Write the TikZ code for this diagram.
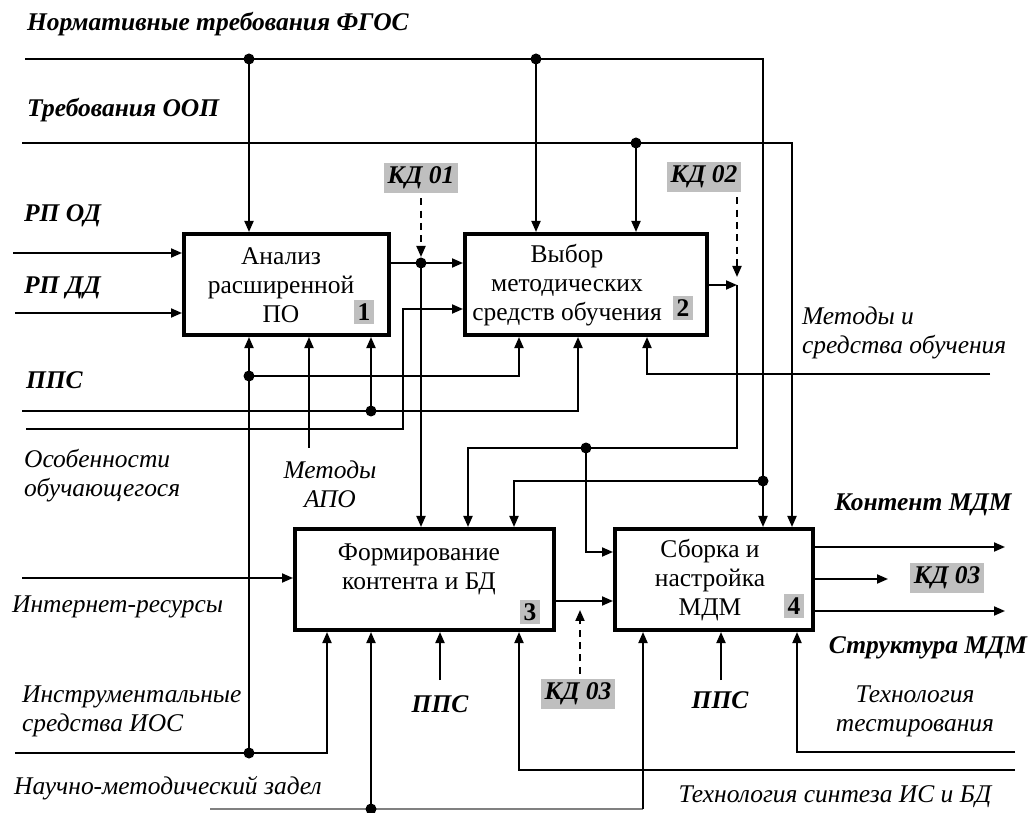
\documentclass[tikz,border=0pt]{standalone}
\usepackage{fontspec}
\setmainfont{Liberation Serif}
\usetikzlibrary{arrows.meta,positioning,calc}
\newcommand{\razm}{\fontsize{14.5}{16.5}\selectfont}

\begin{document}
\begin{tikzpicture}[
  x=0.02cm, y=-0.02cm,
  every node/.style={font=\razm, inner sep=1pt},
  blok/.style={draw, line width=2.3pt, minimum height=2.02cm},
  num/.style={fill=black!25, font=\razm\bfseries, inner sep=2pt},
  kd/.style={fill=black!25, font=\razm\bfseries\itshape, inner sep=2pt},
  vx/.style={font=\razm\bfseries\itshape, anchor=west},
  mex/.style={font=\razm\itshape, align=left},
  arr/.style={line width=1.1pt, -{Triangle[length=0.22cm,width=0.18cm]}},
  dasharr/.style={arr, dash pattern=on 4pt off 3pt}
]
\useasboundingbox (0,0) rectangle (1030,813);

\node[blok, minimum width=4.1cm] (b1) at (286.5,284.5) {};
\node[blok, minimum width=4.84cm] (b2) at (586,284.5) {};
\node[blok, minimum width=5.18cm] (b3) at (424.5,579.5) {};
\node[blok, minimum width=3.96cm] (b4) at (714,579.5) {};

\node[align=center] (t1) at (281,285) {Анализ\\расширенной\\ПО};
\node[align=center] (t2) at (567,285) {Выбор\\методических\\средств обучения};
\node[align=center] (t3) at (419,569) {Формирование\\контента и БД};
\node[align=center] (t4) at (710,580) {Сборка и\\настройка\\МДМ};
\node[num] (nm1) at (364,312) {1};
\node[num] (nm2) at (683,308) {2};
\node[num] (nm3) at (530,612) {3};
\node[num] (nm4) at (794,606) {4};

\coordinate (fgosL) at (25,59);
\coordinate (f1) at (249,59);
\coordinate (f2) at (536,59);
\coordinate (fgosR) at (763,59);
\coordinate (f3) at (763,481);
\coordinate (f4) at (514,481);
\coordinate (oopL) at (22,143);
\coordinate (o1) at (636,143);
\coordinate (oopR) at (792,143);
\coordinate (rpod) at (13,253);
\coordinate (rpdd) at (15,313);
\coordinate (k1) at (421,263);
\coordinate (k2) at (737,285);
\coordinate (c2) at (737,448);
\coordinate (d2) at (586,448);
\coordinate (c3) at (468,448);
\coordinate (d3) at (586,552);
\coordinate (p1) at (249,376);
\coordinate (p2) at (519,376);
\coordinate (ppsL) at (22,411);
\coordinate (q1) at (371,411);
\coordinate (q2) at (578,411);
\coordinate (osL) at (26,429);
\coordinate (os1) at (403,429);
\coordinate (os2) at (403,309);
\coordinate (apo) at (309,448);
\coordinate (msR) at (990,374);
\coordinate (ms1) at (647,374);
\coordinate (inet) at (22,578);
\coordinate (instL) at (15,753);
\coordinate (i1) at (249,753);
\coordinate (inst2) at (327,753);
\coordinate (nauL) at (210,809);
\coordinate (n1) at (371,809);
\coordinate (n2) at (643,809);
\coordinate (pps3) at (440,680);
\coordinate (pps4) at (721,680);
\coordinate (tsR) at (1015,770);
\coordinate (ts1) at (519,770);
\coordinate (ttR) at (1015,752);
\coordinate (tt1) at (797,752);
\coordinate (k3) at (580,601);
\coordinate (out1) at (1005,547);
\coordinate (out2) at (888,579);
\coordinate (out3) at (1005,611);

\node[vx] (lfgos) at (25,24) {Нормативные требования ФГОС};
\node[vx] (loop) at (25,110) {Требования ООП};
\node[vx] (lrpod) at (22,216) {РП ОД};
\node[vx] (lrpdd) at (22,288) {РП ДД};
\node[vx] (lpps) at (24,380) {ППС};
\node[mex, anchor=west] (los) at (22,476) {Особенности\\обучающегося};
\node[mex, align=center] (lapo) at (330,484) {Методы\\АПО};
\node[mex, anchor=west] (linet) at (10,607) {Интернет-ресурсы};
\node[mex, anchor=west] (linst) at (20,711) {Инструментальные\\средства ИОС};
\node[mex, anchor=west] (lnau) at (12,788) {Научно-методический задел};
\node[vx, anchor=center] (lpps3) at (440,704) {ППС};
\node[vx, anchor=center] (lpps4) at (720,700) {ППС};
\node[mex, align=center] (ltt) at (915,711) {Технология\\тестирования};
\node[mex] (lts) at (835,797) {Технология синтеза ИС и БД};
\node[mex, anchor=west] (lms) at (800,333) {Методы и\\средства обучения};
\node[vx, anchor=center] (lkont) at (923,505) {Контент МДМ};
\node[vx, anchor=center] (lstr) at (928,648) {Структура МДМ};
\node[kd] (kd1) at (421,178) {КД 01};
\node[kd] (kd2) at (704,177) {КД 02};
\node[kd] (kd3) at (578,694) {КД 03};
\node[kd] (kd4) at (947,578) {КД 03};

\draw[arr] (fgosL) -- (fgosR) -- (fgosR |- b4.north);
\draw[arr] (f1) -- (f1 |- b1.north);
\draw[arr] (f2) -- (f2 |- b2.north);
\draw[arr] (f3) -- (f4) -- (f4 |- b3.north);
\draw[arr] (oopL) -- (oopR) -- (oopR |- b4.north);
\draw[arr] (o1) -- (o1 |- b2.north);
\draw[arr] (rpod) -- (rpod -| b1.west);
\draw[arr] (rpdd) -- (rpdd -| b1.west);
\draw[arr] (i1) -- (i1 |- b1.south);
\draw[arr] (apo) -- (apo |- b1.south);
\draw[arr] (q1) -- (q1 |- b1.south);
\draw[arr] (k1 -| b1.east) -- (k1 -| b2.west);
\draw[arr] (k1) -- (k1 |- b3.north);
\draw[dasharr, shorten <=3pt, shorten >=0.12cm] (kd1.south -| k1) -- (k1);
\draw[arr] (p1) -- (p2) -- (p2 |- b2.south);
\draw[arr] (ppsL) -- (q2) -- (q2 |- b2.south);
\draw[arr] (osL) -- (os1) -- (os2) -- (os2 -| b2.west);
\draw[arr] (msR) -- (ms1) -- (ms1 |- b2.south);
\draw[arr] (k2 -| b2.east) -- (k2);
\draw[dasharr, shorten <=3pt, shorten >=0.16cm] (kd2.south east -| k2) -- (k2);
\draw[arr] (k2) -- (c2) -- (c3) -- (c3 |- b3.north);
\draw[arr] (d2) -- (d3) -- (d3 -| b4.west);
\draw[arr] (inet) -- (inet -| b3.west);
\draw[arr] (instL) -- (inst2) -- (inst2 |- b3.south);
\draw[line width=1.1pt, black!50] (nauL) -- (n2);
\draw[arr] (n1) -- (n1 |- b3.south);
\draw[arr] (n2) -- (n2 |- b4.south);
\draw[arr] (pps3) -- (pps3 |- b3.south);
\draw[arr] (tsR) -- (ts1) -- (ts1 |- b3.south);
\draw[arr] (k3 -| b3.east) -- (k3 -| b4.west);
\draw[dasharr, shorten <=3pt, shorten >=0.18cm] (kd3.north -| k3) -- (k3);
\draw[arr] (pps4) -- (pps4 |- b4.south);
\draw[arr] (ttR) -- (tt1) -- (tt1 |- b4.south);
\draw[arr] (out1 -| b4.east) -- (out1);
\draw[arr] (out2 -| b4.east) -- (out2);
\draw[arr] (out3 -| b4.east) -- (out3);

\foreach \t in {f1,f2,f3,o1,k1,d2,p1,i1,q1,n1}
  \fill (\t) circle[radius=0.11cm];
\end{tikzpicture}
\end{document}
